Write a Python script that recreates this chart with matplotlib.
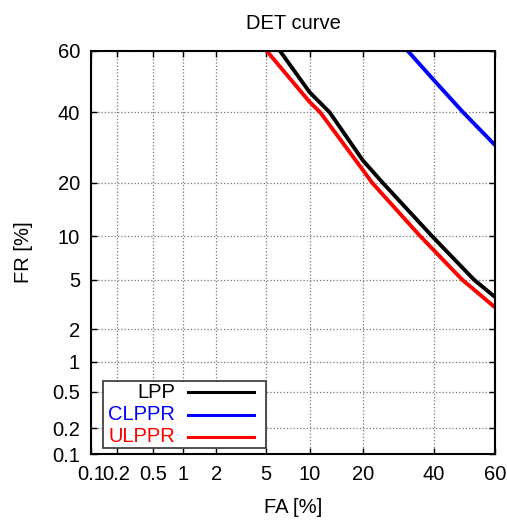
import numpy as np
import matplotlib
matplotlib.use("Agg")
import matplotlib.pyplot as plt
from matplotlib.lines import Line2D
from matplotlib.patches import Rectangle
from statistics import NormalDist

plt.rcParams['font.family'] = ['Liberation Sans', 'DejaVu Sans']

# DET curve data (FA %, FR %)
lpp_fa = [6.35, 10.0, 13.2, 20.0, 25.0, 39.4, 53.2, 60.0]
lpp_fr = [60.0, 46.5, 40.0, 25.7, 20.0, 10.0, 5.0, 3.69]

clppr_fa = [32.0, 40.0, 49.5, 60.0]
clppr_fr = [60.0, 50.5, 40.0, 29.9]

ulppr_fa = [5.1, 10.0, 11.6, 20.0, 22.3, 35.7, 49.3, 60.0]
ulppr_fr = [60.0, 43.3, 40.0, 23.2, 20.0, 10.0, 5.0, 3.05]

ticks = [0.1, 0.2, 0.5, 1, 2, 5, 10, 20, 40, 60]
tick_labels = ['0.1', '0.2', '0.5', '1', '2', '5', '10', '20', '40', '60']

nd = NormalDist()
_ppf = np.vectorize(nd.inv_cdf, otypes=[float])
_cdf = np.vectorize(nd.cdf, otypes=[float])


def fwd(p):
    p = np.clip(np.asarray(p, dtype=float) / 100.0, 1e-9, 1 - 1e-9)
    return _ppf(p)


def inv(z):
    return _cdf(np.asarray(z, dtype=float)) * 100.0


fs = 14.5
fig = plt.figure(figsize=(5.07, 5.20), dpi=100)
ax = fig.add_axes([91 / 507, 1 - 454 / 520, 404 / 507, 403 / 520])
ax.set_xscale('function', functions=(fwd, inv))
ax.set_yscale('function', functions=(fwd, inv))

ax.plot(lpp_fa, lpp_fr, color='black', lw=2.8)
ax.plot(clppr_fa, clppr_fr, color='blue', lw=2.8)
ax.plot(ulppr_fa, ulppr_fr, color='red', lw=2.8)

ax.set_xlim(0.1, 60)
ax.set_ylim(0.1, 60)
ax.set_xticks(ticks)
ax.set_xticklabels(tick_labels)
ax.set_yticks(ticks)
ax.set_yticklabels(tick_labels)
ax.minorticks_off()
ax.tick_params(direction='in', length=4, width=1, top=True, right=True,
               labelsize=fs, pad=8)
ax.grid(True, color='#777777', linestyle=':', lw=0.9)
for s in ax.spines.values():
    s.set_linewidth(1.5)

ax.set_title('DET curve', fontsize=fs, pad=16)
ax.set_xlabel('FA [%]', fontsize=fs, labelpad=10)
ax.set_ylabel('FR [%]', fontsize=fs, labelpad=14)

# gnuplot-style key in the lower left corner
ax.add_patch(Rectangle((12 / 404, 6 / 403), 163 / 404, 67 / 403, transform=ax.transAxes,
                       facecolor='white', edgecolor='#333333', lw=1.2, zorder=5))
names = ['LPP', 'CLPPR', 'ULPPR']
colors = ['black', 'blue', 'red']
for i, (n, c) in enumerate(zip(names, colors)):
    yy = (454 - (392 + 22.5 * i)) / 403
    ax.text(84 / 404, yy, n, color=c, fontsize=fs, ha='right', va='center',
            transform=ax.transAxes, zorder=6)
    ax.add_line(Line2D([97 / 404, 163 / 404], [yy, yy], color=c, lw=2.2,
                       transform=ax.transAxes, zorder=6))

fig.savefig('out.png', dpi=100)
